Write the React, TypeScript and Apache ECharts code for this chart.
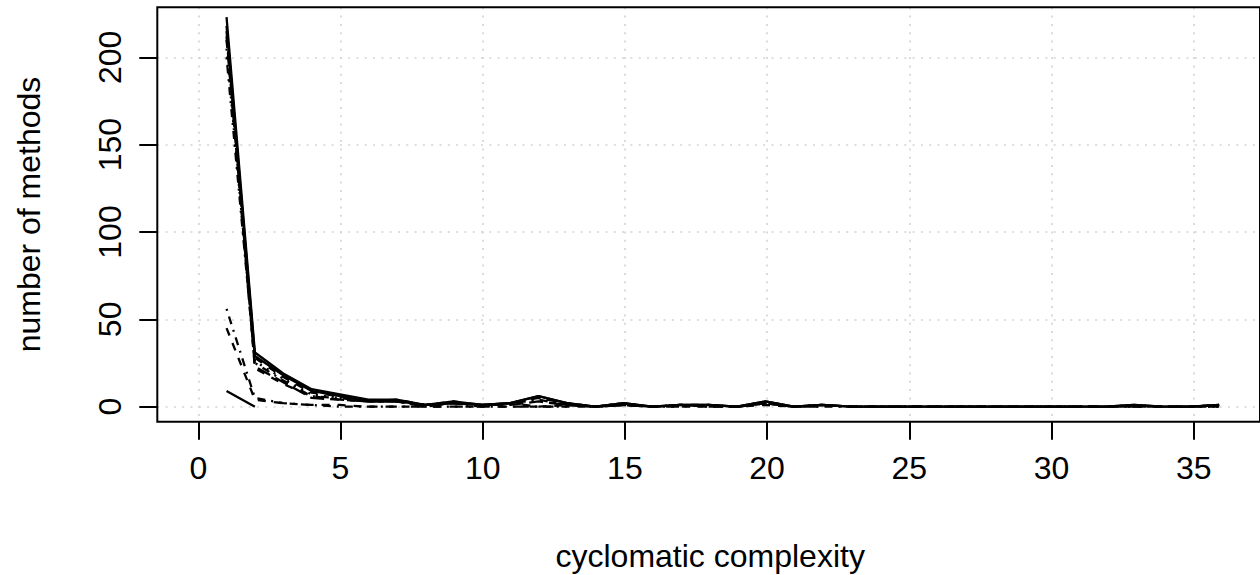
import React, { useEffect, useRef } from "react";
import * as echarts from "echarts";

// cyclomatic complexity 1..36 ; number of methods per project
const complexity: number[] = Array.from({ length: 36 }, (_, i) => i + 1);

const projA = [223, 31, 19, 10, 7, 4, 4, 1, 3, 1, 2, 6, 2, 0, 2, 0, 1, 1, 0, 3, 0, 1, 0, 0, 0, 0, 0, 0, 0, 0, 0, 0, 1, 0, 0, 1];
const projB = [210, 28, 17, 8, 6, 3, 4, 1, 3, 1, 2, 5, 2, 0, 1, 0, 1, 1, 0, 2, 0, 1, 0, 0, 0, 0, 0, 0, 0, 0, 0, 0, 0, 0, 0, 1];
const projC = [205, 26, 16, 7, 5, 3, 3, 1, 2, 1, 2, 5, 1, 0, 2, 0, 1, 0, 0, 3, 0, 1, 0, 0, 0, 0, 0, 0, 0, 0, 0, 0, 1, 0, 0, 0];
const projD = [200, 25, 15, 6, 5, 3, 3, 1, 2, 0, 2, 4, 1, 0, 1, 0, 0, 1, 0, 2, 0, 0, 0, 0, 0, 0, 0, 0, 0, 0, 0, 0, 0, 0, 0, 0];
const projE = [215, 23, 14, 5, 4, 3, 3, 0, 2, 1, 1, 3, 1, 0, 1, 0, 1, 0, 0, 2, 0, 1, 0, 0, 0, 0, 0, 0, 0, 0, 0, 0, 0, 0, 0, 0];
const projF = [218, 29, 18, 9, 6, 3, 3, 1, 2, 1, 2, 6, 2, 0, 2, 0, 1, 1, 0, 3, 0, 1, 0, 0, 0, 0, 0, 0, 0, 0, 0, 0, 1, 0, 0, 1];
const projG = [9, 0];
const projH = [56, 5, 2, 1, 0, 0, 0, 0, 0, 0, 0, 0, 0];
const projI = [45, 4, 2, 1, 1, 0, 0, 0, 0, 0, 0, 0, 0, 0];
const projJ = [212, 22, 13, 6, 4, 3, 3, 1, 2, 1, 2, 0, 1, 0, 1, 0, 0, 0, 0, 1, 0, 0];

const seriesList: { name: string; values: number[]; lty: string }[] = [
  { name: "A", values: projA, lty: "solid" },
  { name: "B", values: projB, lty: "dashed" },
  { name: "C", values: projC, lty: "dotted" },
  { name: "D", values: projD, lty: "dotdash" },
  { name: "E", values: projE, lty: "longdash" },
  { name: "F", values: projF, lty: "solid" },
  { name: "G", values: projG, lty: "solid" },
  { name: "H", values: projH, lty: "dotdash" },
  { name: "I", values: projI, lty: "dashed" },
  { name: "J", values: projJ, lty: "dashed" },
];

const xTicks = [0, 5, 10, 15, 20, 25, 30, 35];
const yTicks = [0, 50, 100, 150, 200];

const ltyMap: Record<string, any> = {
  solid: "solid",
  dashed: [8, 8],
  dotted: [2, 6],
  dotdash: [2, 6, 8, 6],
  longdash: [14, 6],
};

const FONT = "'Liberation Sans', Arial, Helvetica, sans-serif";

// plot geometry (pixels)
const PL = 157.3; // plot left
const PT = 7.3; // plot top
const PB = 421.7; // plot bottom
const X0PX = 198.3; // pixel of x = 0
const XU = 28.44; // px per x unit
const Y0PX = 406.7; // pixel of y = 0
const YU = 1.747; // px per y unit
const XMIN = (PL - X0PX) / XU;
const XMAX = 37.44;
const YMIN = -(PB - Y0PX) / YU;
const YMAX = (Y0PX - PT) / YU;

export default function App() {
  const ref = useRef<HTMLDivElement>(null);
  useEffect(() => {
    if (!ref.current) return;
    const chart = echarts.init(ref.current, null, { renderer: "svg" });
    const plotW = (XMAX - XMIN) * XU;
    const xTickW = (xTicks[xTicks.length - 1] - xTicks[0]) * XU;
    const yTickTop = Y0PX - yTicks[yTicks.length - 1] * YU;

    const dataSeries = seriesList.map((s) => ({
      type: "line",
      name: s.name,
      xAxisIndex: 0,
      yAxisIndex: 0,
      showSymbol: false,
      symbol: "none",
      silent: true,
      data: s.values.map((v, i) => [complexity[i], v]),
      lineStyle: { color: "#000", width: 2.3, type: ltyMap[s.lty], cap: "butt" },
      z: 5,
    }));

    chart.setOption({
      animation: false,
      backgroundColor: "#fff",
      textStyle: { fontFamily: FONT },
      grid: [
        {
          left: PL,
          top: PT,
          width: plotW,
          height: PB - PT,
          show: true,
          borderColor: "#000",
          borderWidth: 2,
          backgroundColor: "transparent",
          z: 10,
        },
        { left: X0PX, top: PT, width: xTickW, height: PB - PT },
        { left: PL, top: yTickTop, width: plotW, height: Y0PX - yTickTop },
      ],
      xAxis: [
        { type: "value", gridIndex: 0, min: XMIN, max: XMAX, show: false },
        {
          type: "value",
          gridIndex: 1,
          min: 0,
          max: 35,
          interval: 5,
          position: "bottom",
          axisLine: { show: false },
          axisTick: { show: true, inside: false, length: 18, lineStyle: { color: "#000", width: 2 } },
          axisLabel: { show: true, margin: 30, fontSize: 32, color: "#000", fontFamily: FONT },
          splitLine: { show: true, lineStyle: { color: "#d3d3d3", width: 1.6, type: [2, 6.3] } },
        },
        { type: "value", gridIndex: 2, min: 0, max: 1, show: false },
      ],
      yAxis: [
        { type: "value", gridIndex: 0, min: YMIN, max: YMAX, show: false },
        { type: "value", gridIndex: 1, min: 0, max: 1, show: false },
        {
          type: "value",
          gridIndex: 2,
          min: 0,
          max: 200,
          interval: 50,
          position: "left",
          axisLine: { show: false },
          axisTick: { show: true, inside: false, length: 18, lineStyle: { color: "#000", width: 2 } },
          axisLabel: { show: true, margin: 31, fontSize: 32, color: "#000", rotate: 90, fontFamily: FONT },
          splitLine: { show: true, lineStyle: { color: "#d3d3d3", width: 1.6, type: [2, 6.3] } },
        },
      ],
      graphic: [
        {
          type: "text",
          x: (PL + PL + plotW) / 2,
          y: 556,
          style: {
            text: "cyclomatic complexity",
            font: `32px ${FONT}`,
            fill: "#000",
            align: "center",
            verticalAlign: "middle",
          },
        },
        {
          type: "text",
          x: 29,
          y: (PT + PB) / 2,
          rotation: Math.PI / 2,
          style: {
            text: "number of methods",
            font: `32px ${FONT}`,
            fill: "#000",
            align: "center",
            verticalAlign: "middle",
          },
        },
      ],
      series: dataSeries,
    });
    return () => chart.dispose();
  }, []);
  return (
    <div
      ref={ref}
      style={{ position: "absolute", left: 0, top: 0, width: 1260, height: 575, background: "#fff" }}
    />
  );
}
